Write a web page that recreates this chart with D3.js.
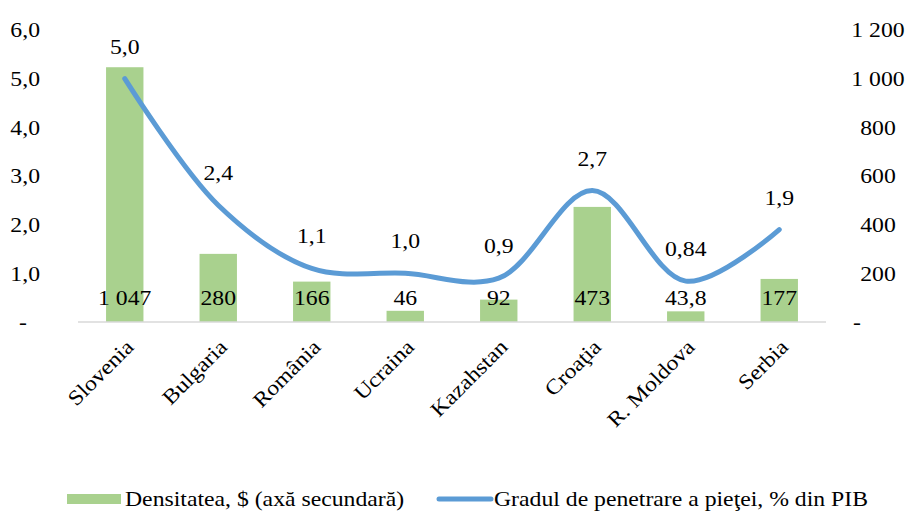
<!DOCTYPE html>
<html>
<head>
<meta charset="utf-8">
<script src="https://cdn.jsdelivr.net/npm/d3@7"></script>
<style>
  body { margin: 0; background: #fff; }
</style>
</head>
<body>
<script>
var width = 911;
var height = 512;

// ------- data --------
var countries = ['Slovenia', 'Bulgaria', 'România', 'Ucraina', 'Kazahstan', 'Croaţia', 'R. Moldova', 'Serbia'];
var density = [1047, 280, 166, 46, 92, 473, 43.8, 177];          // $ (right axis)
var penetration = [5.0, 2.4, 1.1, 1.0, 0.9, 2.7, 0.84, 1.9];    // % din PIB (left axis)
var densityLabels = ['1 047', '280', '166', '46', '92', '473', '43,8', '177'];
var penetrationLabels = ['5,0', '2,4', '1,1', '1,0', '0,9', '2,7', '0,84', '1,9'];
var leftTicks = [0, 1, 2, 3, 4, 5, 6];
var rightTicks = [0, 200, 400, 600, 800, 1000, 1200];
var seriesNames = ['Densitatea, $ (axă secundară)', 'Gradul de penetrare a pieţei, % din PIB'];

var barColor = '#a9d18e';
var lineColor = '#5b9bd5';
var fs = '21px';
var ff = "'Liberation Serif', 'Times New Roman', Times, serif";
var sx = 1.13; // the original text is a bit wide

// ------- SVG --------
var svg = d3.select('body')
    .append('svg')
    .attr('width', width)
    .attr('height', height)
    .style('font-family', ff);

var plotLeft = 78, plotRight = 826, plotTop = 30, plotBottom = 322;

var x = d3.scaleBand()
    .domain(countries)
    .range([plotLeft, plotRight])
    .paddingInner(0.6)
    .paddingOuter(0.3);
var yL = d3.scaleLinear().domain([0, 6]).range([plotBottom, plotTop]);
var yR = d3.scaleLinear().domain([0, 1200]).range([plotBottom, plotTop]);

function cx(d) { return x(d) + x.bandwidth() / 2; }

// text placed at px,py and stretched horizontally
function place(px, py) { return 'translate(' + px + ',' + py + ') scale(' + sx + ',1)'; }

// left axis
var axL = svg.append('g')
    .attr('transform', 'translate(40,0)')
    .call(d3.axisLeft(yL).tickValues(leftTicks).tickSize(0).tickPadding(0)
        .tickFormat(function(d) { return d === 0 ? '-' : d3.format('.1f')(d).replace('.', ','); }));
axL.attr('font-family', ff).attr('font-size', fs);
axL.select('.domain').remove();
axL.selectAll('text')
    .style('font-family', ff)
    .style('font-size', fs)
    .attr('fill', '#000')
    .attr('x', 0)
    .attr('transform', function(d) { return place(d === 0 ? -13 : 0, 0); });

// right axis
var axR = svg.append('g')
    .attr('transform', 'translate(878,0)')
    .call(d3.axisRight(yR).tickValues(rightTicks).tickSize(0).tickPadding(0)
        .tickFormat(function(d) { return d === 0 ? '-' : d3.format(',')(d).replace(',', ' '); }));
axR.attr('font-family', ff).attr('font-size', fs);
axR.select('.domain').remove();
axR.selectAll('text')
    .style('font-family', ff)
    .style('font-size', fs)
    .attr('fill', '#000')
    .attr('x', 0)
    .attr('text-anchor', 'middle')
    .attr('transform', function(d) { return place(d === 0 ? -21 : 0, 0); });

// bars
svg.selectAll('rect.bar')
    .data(countries)
    .enter()
    .append('rect')
    .attr('class', 'bar')
    .attr('x', function(d) { return x(d); })
    .attr('width', x.bandwidth())
    .attr('y', function(d, i) { return yR(density[i]); })
    .attr('height', function(d, i) { return plotBottom - yR(density[i]); })
    .attr('fill', barColor);

// x axis line
svg.append('line')
    .attr('x1', plotLeft).attr('x2', plotRight)
    .attr('y1', plotBottom).attr('y2', plotBottom)
    .attr('stroke', '#d9d9d9')
    .attr('stroke-width', 1.5);

// line
var line = d3.line()
    .x(function(d, i) { return cx(countries[i]); })
    .y(function(d) { return yL(d); })
    .curve(d3.curveCatmullRom.alpha(0.5));

svg.append('path')
    .datum(penetration)
    .attr('d', line)
    .attr('fill', 'none')
    .attr('stroke', lineColor)
    .attr('stroke-width', 5)
    .attr('stroke-linecap', 'round');

// bar labels
svg.selectAll('text.blabel')
    .data(countries)
    .enter()
    .append('text')
    .attr('class', 'blabel')
    .attr('transform', function(d) { return place(cx(d), plotBottom - 17); })
    .attr('text-anchor', 'middle')
    .style('font-size', fs)
    .text(function(d, i) { return densityLabels[i]; });

// line labels
svg.selectAll('text.llabel')
    .data(countries)
    .enter()
    .append('text')
    .attr('class', 'llabel')
    .attr('transform', function(d, i) { return place(cx(d), yL(penetration[i]) - 25); })
    .attr('text-anchor', 'middle')
    .style('font-size', fs)
    .text(function(d, i) { return penetrationLabels[i]; });

// category labels
svg.selectAll('text.cat')
    .data(countries)
    .enter()
    .append('text')
    .attr('class', 'cat')
    .attr('transform', function(d) {
        return 'translate(' + (cx(d) + 5) + ',' + (plotBottom + 21) + ') rotate(-45) scale(' + sx + ',1)';
    })
    .attr('text-anchor', 'end')
    .attr('dy', '0.35em')
    .style('font-size', fs)
    .text(function(d) { return d; });

// legend
var lg = svg.append('g').attr('transform', 'translate(0,499)');
lg.append('rect')
    .attr('x', 67).attr('y', -5).attr('width', 54).attr('height', 10)
    .attr('fill', barColor);
lg.append('text')
    .attr('transform', place(125, 0))
    .attr('dy', '0.35em')
    .style('font-size', fs)
    .text(seriesNames[0]);
lg.append('line')
    .attr('x1', 439).attr('x2', 491).attr('y1', 0).attr('y2', 0)
    .attr('stroke', lineColor).attr('stroke-width', 5).attr('stroke-linecap', 'round');
lg.append('text')
    .attr('transform', place(494, 0))
    .attr('dy', '0.35em')
    .style('font-size', fs)
    .text(seriesNames[1]);
</script>
</body>
</html>
